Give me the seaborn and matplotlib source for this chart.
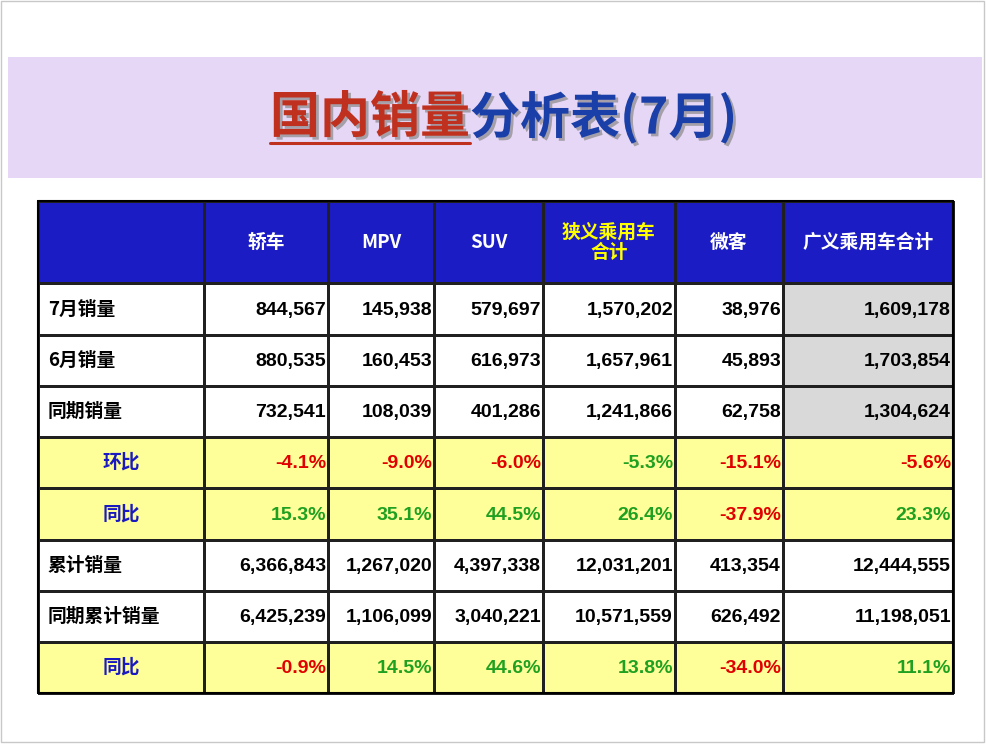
import numpy as np
import matplotlib
matplotlib.use("Agg")
import matplotlib.pyplot as plt
from matplotlib.colors import ListedColormap
import matplotlib.patheffects as pe
import seaborn as sns

sns.set_theme(style="white")
FONT = "Noto Sans CJK SC"
NUMFONT = "Liberation Sans"

columns = ["", "轿车", "MPV", "SUV", "狭义乘用车\n合计", "微客", "广义乘用车合计"]
row_labels = ["7月销量", "6月销量", "同期销量", "环比", "同比", "累计销量", "同期累计销量", "同比"]
sedan = ["844,567", "880,535", "732,541", "-4.1%", "15.3%", "6,366,843", "6,425,239", "-0.9%"]
mpv = ["145,938", "160,453", "108,039", "-9.0%", "35.1%", "1,267,020", "1,106,099", "14.5%"]
suv = ["579,697", "616,973", "401,286", "-6.0%", "44.5%", "4,397,338", "3,040,221", "44.6%"]
narrow = ["1,570,202", "1,657,961", "1,241,866", "-5.3%", "26.4%", "12,031,201", "10,571,559", "13.8%"]
microvan = ["38,976", "45,893", "62,758", "-15.1%", "-37.9%", "413,354", "626,492", "-34.0%"]
broad = ["1,609,178", "1,703,854", "1,304,624", "-5.6%", "23.3%", "12,444,555", "11,198,051", "11.1%"]
pct_colors = {
    3: ["r", "r", "r", "g", "r", "r"],
    4: ["g", "g", "g", "g", "r", "g"],
    7: ["r", "g", "g", "g", "r", "g"],
}

W, H = 986, 744
fig = plt.figure(figsize=(W / 100, H / 100), dpi=100)
ax = fig.add_axes([0, 0, 1, 1])
ax.set_xlim(0, W)
ax.set_ylim(H, 0)
ax.axis("off")

ax.add_patch(plt.Rectangle((1, 1), W - 3, H - 3, fill=False, ec="#C8C8C8", lw=1))
ax.add_patch(plt.Rectangle((8, 57), 974, 121, color="#E6D7F7", lw=0))
shadow = [pe.withSimplePatchShadow(offset=(2, -2), shadow_rgbFace="#888888", alpha=0.7)]
ax.text(470, 118, "国内销量", color="#C0301E", fontsize=36, fontweight="bold",
        family=FONT, ha="right", va="center", path_effects=shadow)
ax.text(470, 118, "分析表(7月)", color="#1A3FA8", fontsize=36, fontweight="bold",
        family=FONT, ha="left", va="center", path_effects=shadow)
ax.plot([270, 470], [143, 143], color="#C0301E", lw=2.2)

xe = np.array([38, 204, 328, 434, 543, 675, 783, 953])
ye = np.array([201, 283, 335, 386, 437, 488, 540, 591, 642, 693])
nrows, ncols = len(row_labels) + 1, len(columns)
C = np.zeros((nrows, ncols))
C[0, :] = 3
for r in (4, 5, 8):
    C[r, :] = 1
for r in (1, 2, 3):
    C[r, 6] = 2
cmap = ListedColormap(["white", "#FFFF99", "#D9D9D9", "#1C1CC4"])
ax.pcolormesh(xe, ye, C, cmap=cmap, vmin=-0.5, vmax=3.5, edgecolors="#202020", linewidth=1)
ax.plot([38, 953, 953, 38, 38], [201, 201, 693, 693, 201], color="black", lw=1.5)

for j, name in enumerate(columns):
    if not name:
        continue
    ax.text((xe[j] + xe[j + 1]) / 2, (ye[0] + ye[1]) / 2, name,
            color="#FFFF00" if j == 4 else "white", fontsize=13.5, fontweight="bold",
            family=FONT, ha="center", va="center", linespacing=1.1)

data_cols = [sedan, mpv, suv, narrow, microvan, broad]
for i, lab in enumerate(row_labels):
    yc = (ye[i + 1] + ye[i + 2]) / 2
    if i in pct_colors:
        ax.text(121, yc, lab, color="#1A1AC0", fontsize=13.5, fontweight="bold",
                family=FONT, ha="center", va="center")
    else:
        ax.text(48, yc, lab, color="black", fontsize=13.5, fontweight="bold",
                family=FONT, ha="left", va="center")
    for j, col in enumerate(data_cols):
        if i in pct_colors:
            c = "#E00000" if pct_colors[i][j] == "r" else "#20A020"
        else:
            c = "black"
        ax.text(xe[j + 2] - 2, yc + 1, col[i], color=c, fontsize=14, fontweight="bold",
                family=NUMFONT, ha="right", va="center")

fig.savefig("out.png", dpi=100)
